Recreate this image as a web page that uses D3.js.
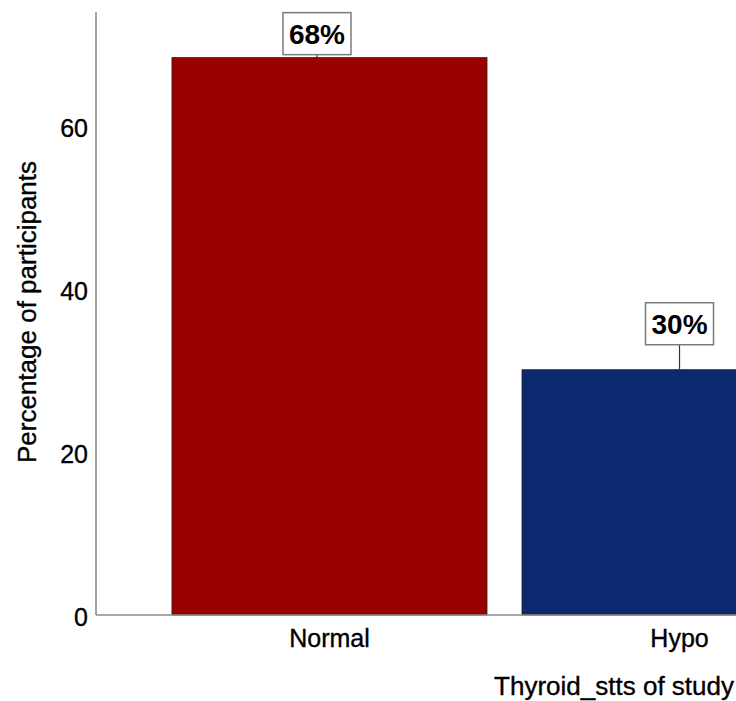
<!DOCTYPE html>
<html>
<head>
<meta charset="utf-8">
<script src="https://cdn.jsdelivr.net/npm/d3@7"></script>
<style>
  html, body { margin: 0; padding: 0; background: #fff; }
  svg { display: block; }
  text { font-family: Arial, "Liberation Sans", sans-serif; fill: #000; }
  .axis-text { stroke: #000; stroke-width: 0.35px; }
</style>
</head>
<body>
<svg id="chart" width="736" height="701"></svg>
<script>
// Thyroid status of study participants (percent of participants)
const categories = ["Normal", "Hypo"];
const percentages = [68.4, 30.1];
const barColors = ["#990000", "#0c296f"];
const yTicks = [0, 20, 40, 60];
const yTitle = "Percentage of participants";
const xTitle = "Thyroid_stts of study";

// label callout placement (horizontal shift, gap above bar)
const labelShift = [-12.5, 0];
const labelGap = [3, 25];

const svg = d3.select("#chart");
const axisX = 96, baseY = 615, topY = 12;

const y = d3.scaleLinear().domain([0, 74]).range([baseY, topY]);
const x = d3.scaleBand()
  .domain(categories)
  .range([axisX, 913])
  .paddingInner(0.1)
  .paddingOuter(0.217);

const fmt = d3.format(".0f");

// bars
svg.append("g").selectAll("rect")
  .data(categories)
  .join("rect")
  .attr("x", d => x(d))
  .attr("y", (d, i) => y(percentages[i]))
  .attr("width", x.bandwidth())
  .attr("height", (d, i) => baseY - y(percentages[i]))
  .attr("fill", (d, i) => barColors[i])
  .attr("stroke", "#2a1a1a")
  .attr("stroke-width", 0.8);

// y tick labels
svg.append("g").selectAll("text")
  .data(yTicks)
  .join("text")
  .attr("class", "axis-text")
  .attr("x", axisX - 8)
  .attr("y", d => y(d))
  .attr("dy", "0.45em")
  .attr("text-anchor", "end")
  .style("font-size", "25px")
  .text(d => d);

// x tick labels
svg.append("g").selectAll("text")
  .data(categories)
  .join("text")
  .attr("class", "axis-text")
  .attr("x", d => x(d) + x.bandwidth() / 2)
  .attr("y", baseY + 32)
  .attr("text-anchor", "middle")
  .style("font-size", "25px")
  .text(d => d);

// axis lines
svg.append("line")
  .attr("x1", axisX).attr("x2", axisX)
  .attr("y1", topY).attr("y2", baseY)
  .attr("stroke", "#8c8c8c").attr("stroke-width", 1.6);
svg.append("line")
  .attr("x1", axisX).attr("x2", 736)
  .attr("y1", baseY).attr("y2", baseY)
  .attr("stroke", "#8c8c8c").attr("stroke-width", 1.6);

// axis titles
svg.append("text")
  .attr("class", "axis-text")
  .attr("transform", `translate(36,312) rotate(-90)`)
  .attr("text-anchor", "middle")
  .style("font-size", "26px")
  .text(yTitle);

svg.append("text")
  .attr("class", "axis-text")
  .attr("x", 734).attr("y", 695)
  .attr("text-anchor", "end")
  .style("font-size", "26px")
  .text(xTitle);

// value callouts
const boxW = 68, boxH = 42;
const labels = svg.append("g").selectAll("g")
  .data(categories)
  .join("g")
  .attr("transform", (d, i) => {
    const cx = x(d) + x.bandwidth() / 2 + labelShift[i];
    return `translate(${cx},${y(percentages[i])})`;
  });

labels.append("line")
  .attr("x1", 0).attr("x2", 0)
  .attr("y1", (d, i) => -labelGap[i]).attr("y2", 0)
  .attr("stroke", "#333").attr("stroke-width", 1.2);

labels.append("rect")
  .attr("x", -boxW / 2)
  .attr("y", (d, i) => -labelGap[i] - boxH)
  .attr("width", boxW).attr("height", boxH)
  .attr("fill", "#fff")
  .attr("stroke", "#7a7a7a").attr("stroke-width", 1.5);

labels.append("text")
  .attr("x", 0)
  .attr("y", (d, i) => -labelGap[i] - boxH / 2)
  .attr("dy", "0.36em")
  .attr("text-anchor", "middle")
  .style("font-size", "28px")
  .style("font-weight", "bold")
  .text((d, i) => fmt(percentages[i]) + "%");
</script>
</body>
</html>
